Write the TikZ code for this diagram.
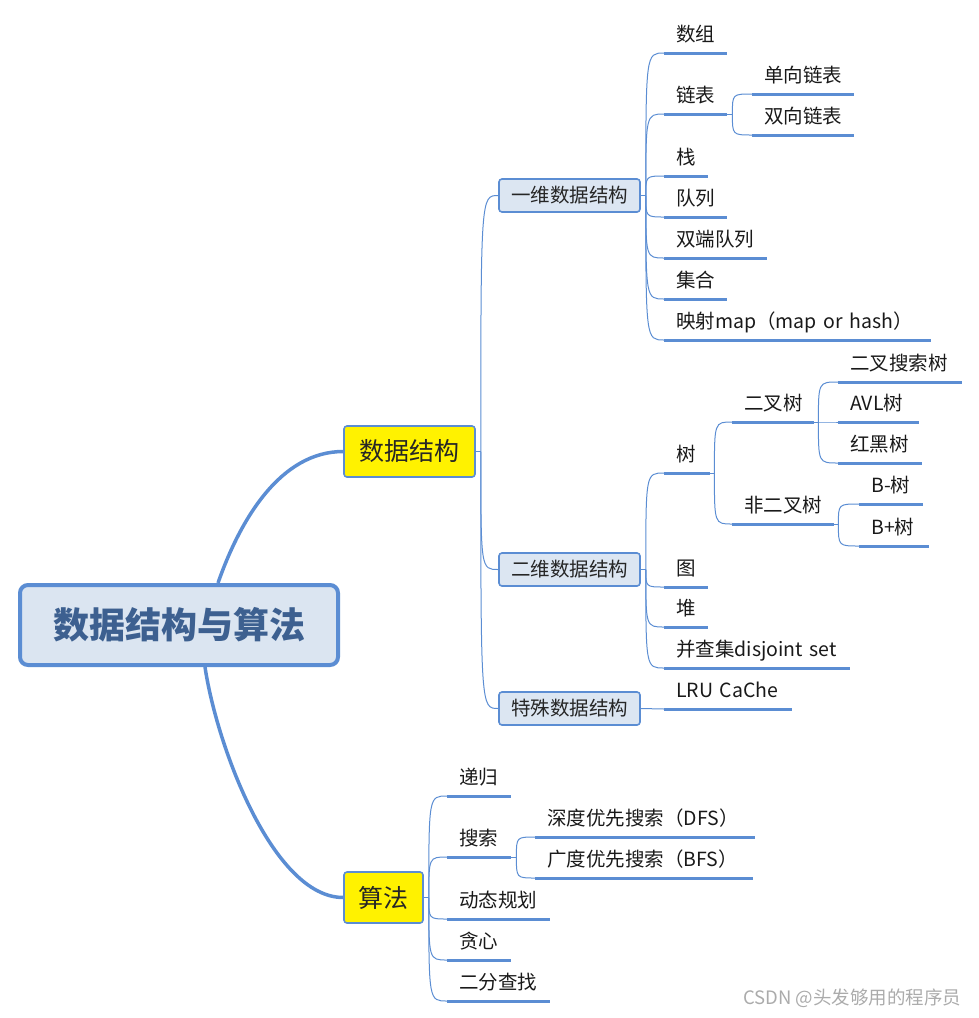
\documentclass[tikz,border=0pt]{standalone}
\usepackage{fontspec}
\setmainfont{Noto Sans CJK SC}
\usetikzlibrary{positioning}

\definecolor{mmblue}{HTML}{5B8DD3}
\definecolor{rootfill}{HTML}{DBE5F1}
\definecolor{subfill}{HTML}{DCE6F2}
\definecolor{roottext}{HTML}{3D6090}
\definecolor{marktext}{HTML}{ABABAB}

\begin{document}
\begin{tikzpicture}[
  x=1pt, y=-1pt,
  root/.style={draw=mmblue, line width=4pt, rounded corners=8pt, fill=rootfill, minimum width=318pt, minimum height=80pt,
    font=\fontsize{36}{40}\selectfont\bfseries, text=roottext},
  topic/.style={draw=mmblue, line width=1.6pt, rounded corners=3pt, fill=yellow, minimum height=51pt,
    font=\fontsize{25}{30}\selectfont, text=black!85},
  sub/.style={draw=mmblue, line width=1.6pt, rounded corners=3pt, fill=subfill, minimum width=141pt, minimum height=33pt,
    font=\fontsize{19.5}{23}\selectfont, text=black!85},
  leaf/.style={anchor=south west, inner xsep=12pt, inner ysep=7pt, text depth=4pt, align=left,
    font=\fontsize{19.5}{23}\selectfont, text=black!90,
    append after command={(\tikzlastnode.south west) edge[uline] (\tikzlastnode.south east)}},
  uline/.style={draw=mmblue, line width=3pt},
  trunk/.style={draw=mmblue, line width=3.5pt},
  branch/.style={draw=mmblue, line width=1pt},
  wmark/.style={font=\fontsize{18.5}{21}\selectfont, text=marktext}
]
\useasboundingbox (0,0) rectangle (979,1018);

% main topics
\node[root] (root) at (179,625) {数据结构与算法};
\node[topic, minimum width=131pt] (ds) at (409.5,451.5) {数据结构};
\node[topic, minimum width=79pt] (alg) at (383.5,897.5) {算法};

\node[sub] (one) at (569.5,195.5) {一维数据结构};
\node[sub] (two) at (569.5,569.5) {二维数据结构};
\node[sub] (spec) at (569.5,708.5) {特殊数据结构};

% one-dimensional
\node[leaf, text width=39pt] (arr) at (664,53) {数组};
\node[below=61pt of arr.south west, leaf, text width=39pt] (lst) {链表};
\node[below=62pt of lst.south west, leaf, text width=20pt] (stk) {栈};
\node[below=41pt of stk.south west, leaf, text width=39pt] (que) {队列};
\node[below=41pt of que.south west, leaf, text width=79pt] (dq) {双端队列};
\node[below=41pt of dq.south west, leaf, text width=39pt] (set) {集合};
\node[below=41pt of set.south west, leaf, text width=243pt] (mp) {映射map（map or hash）};

\node[leaf, text width=78pt] (sl) at (752,94) {单向链表};
\node[below=41pt of sl.south west, leaf, text width=78pt] (dl) {双向链表};

% two-dimensional
\node[leaf, text width=22pt] (tree) at (664,473) {树};
\node[below=114pt of tree.south west, leaf, text width=20pt] (graph) {图};
\node[below=40pt of graph.south west, leaf, text width=20pt] (heap) {堆};
\node[below=41pt of heap.south west, leaf, text width=162pt] (dsu) {并查集disjoint set};
\node[below=41pt of dsu.south west, leaf, text width=104pt] (lru) {LRU CaChe};

\node[leaf, text width=58pt] (bt) at (732,422) {二叉树};
\node[below=102pt of bt.south west, leaf, text width=78pt] (nbt) {非二叉树};

\node[leaf, text width=100pt] (bst) at (838,382) {二叉搜索树};
\node[below=40pt of bst.south west, leaf, text width=57pt] (avl) {AVL树};
\node[below=41pt of avl.south west, leaf, text width=60pt] (rbt) {红黑树};

\node[leaf, text width=40pt] (bm) at (859,504) {B-树};
\node[below=42pt of bm.south west, leaf, text width=46pt] (bp) {B+树};

% algorithms
\node[leaf, text width=40pt] (rec) at (447,796) {递归};
\node[below=61pt of rec.south west, leaf, text width=40pt] (srch) {搜索};
\node[below=62pt of srch.south west, leaf, text width=79pt] (dp) {动态规划};
\node[below=41pt of dp.south west, leaf, text width=40pt] (grd) {贪心};
\node[below=41pt of grd.south west, leaf, text width=79pt] (bs) {二分查找};

\node[leaf, text width=196pt] (dfs) at (535,837) {深度优先搜索（DFS）};
\node[below=41pt of dfs.south west, leaf, text width=194pt] (bfs) {广度优先搜索（BFS）};

\node[wmark, anchor=south east] (wm) at (965,1011) {CSDN @头发够用的程序员};

% trunks
\draw[trunk] ([xshift=39pt]root.north) .. controls +(22,-63) and +(-63,0) .. (ds.west);
\draw[trunk] ([xshift=26pt]root.south) .. controls +(12,80) and +(-70,0) .. (alg.west);

% branches
\coordinate (dsb) at ([xshift=5pt]ds.east);
\draw[branch] (ds.east) -- (dsb);
\foreach \t in {one,two,spec}
  \draw[branch] (dsb) .. controls (dsb |- \t.west) .. (\t.west);

\coordinate (oneb) at ([xshift=5pt]one.east);
\draw[branch] (one.east) -- (oneb);
\foreach \c in {arr,lst,stk,que,dq,set,mp}
  \draw[branch] (oneb) .. controls (oneb |- \c.south west) .. (\c.south west);

\coordinate (lstb) at ([xshift=5pt]lst.south east);
\draw[branch] (lst.south east) -- (lstb);
\foreach \c in {sl,dl}
  \draw[branch] (lstb) .. controls (lstb |- \c.south west) .. (\c.south west);

\coordinate (twob) at ([xshift=5pt]two.east);
\draw[branch] (two.east) -- (twob);
\foreach \c in {tree,graph,heap,dsu}
  \draw[branch] (twob) .. controls (twob |- \c.south west) .. (\c.south west);

\coordinate (treeb) at ([xshift=4pt]tree.south east);
\draw[branch] (tree.south east) -- (treeb);
\foreach \c in {bt,nbt}
  \draw[branch] (treeb) .. controls (treeb |- \c.south west) .. (\c.south west);

\coordinate (btb) at ([xshift=4pt]bt.south east);
\draw[branch] (bt.south east) -- (btb);
\foreach \c in {bst,avl,rbt}
  \draw[branch] (btb) .. controls (btb |- \c.south west) .. (\c.south west);

\coordinate (nbtb) at ([xshift=4pt]nbt.south east);
\draw[branch] (nbt.south east) -- (nbtb);
\foreach \c in {bm,bp}
  \draw[branch] (nbtb) .. controls (nbtb |- \c.south west) .. (\c.south west);

\draw[branch] (spec.east) -- (lru.south west);

\coordinate (algb) at ([xshift=5pt]alg.east);
\draw[branch] (alg.east) -- (algb);
\foreach \c in {rec,srch,dp,grd,bs}
  \draw[branch] (algb) .. controls (algb |- \c.south west) .. (\c.south west);

\coordinate (srchb) at ([xshift=5pt]srch.south east);
\draw[branch] (srch.south east) -- (srchb);
\foreach \c in {dfs,bfs}
  \draw[branch] (srchb) .. controls (srchb |- \c.south west) .. (\c.south west);
\end{tikzpicture}
\end{document}
